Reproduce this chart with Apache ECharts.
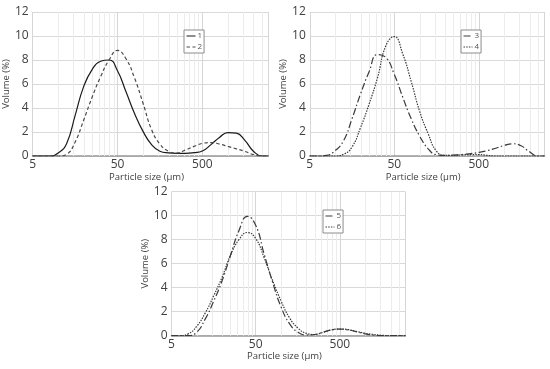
<!DOCTYPE html>
<html><head><meta charset="utf-8">
<script src="https://cdn.jsdelivr.net/npm/echarts@6/dist/echarts.min.js"></script>
<style>html,body{margin:0;padding:0;background:#fff}#c{width:550px;height:369px}</style>
</head><body><div id="c"></div>
<script>
// particle size classes (µm)
const sizes = [5, 6.3, 7.9, 10, 12.6, 15.8, 20, 25.1, 31.6, 39.8, 50, 63, 79.4, 100, 126, 158, 200, 251, 316, 398, 500, 631, 794, 1000, 1259, 1585, 1995, 2512, 3000];
// volume (%) per sample
const vol1 = [0, 0, 0, 0.25, 1.05, 3.35, 5.8, 7.2, 7.9, 8.0, 7.1, 5.35, 3.55, 2.05, 0.95, 0.4, 0.26, 0.22, 0.22, 0.28, 0.42, 0.95, 1.55, 1.95, 1.9, 1.3, 0.4, 0, 0];
const vol2 = [0, 0, 0, 0, 0.15, 1.15, 3.0, 4.9, 6.6, 8.0, 8.8, 8.1, 6.5, 4.4, 2.2, 1.0, 0.4, 0.25, 0.5, 0.8, 1.05, 1.12, 1.0, 0.8, 0.6, 0.38, 0.12, 0, 0];
const vol3 = [0, 0, 0.05, 0.45, 1.3, 3.1, 5.2, 7.0, 8.45, 8.2, 6.8, 4.9, 3.1, 1.65, 0.6, 0.1, 0.05, 0.08, 0.12, 0.2, 0.3, 0.45, 0.65, 0.88, 1.02, 0.85, 0.35, 0, 0];
const vol4 = [0, 0, 0, 0, 0.15, 0.75, 2.4, 4.3, 6.5, 9.2, 9.95, 8.5, 6.2, 3.7, 1.85, 0.4, 0.05, 0.05, 0.1, 0.12, 0.12, 0.05, 0, 0, 0, 0, 0, 0, 0];
const vol5 = [0, 0, 0, 0.3, 1.4, 2.85, 4.6, 6.7, 8.75, 9.95, 9.2, 6.8, 4.45, 2.4, 1.0, 0.3, 0.05, 0.1, 0.3, 0.48, 0.55, 0.48, 0.32, 0.15, 0.05, 0, 0, 0, 0];
const vol6 = [0, 0, 0.15, 0.8, 1.9, 3.3, 4.9, 6.7, 8.0, 8.6, 8.1, 6.5, 4.6, 2.9, 1.5, 0.65, 0.2, 0.1, 0.28, 0.48, 0.56, 0.5, 0.35, 0.2, 0.1, 0.03, 0, 0, 0];
const seriesNames = ['1', '2', '3', '4', '5', '6'];
// axis range and gridlines (µm)
const xMin = 5, xMax = 3000;
const minorGrid = [10, 15, 20, 25, 30, 35, 40, 45, 100, 150, 200, 250, 300, 350, 400, 450, 1000, 1500, 2000, 2500];
const yTicks = [0, 2, 4, 6, 8, 10, 12];

const xp = v => Math.log10(v / xMin);
const FONT = 'Open Sans';
const TXT = '#404040';
const vols = [vol1, vol2, vol3, vol4, vol5, vol6];
const styles = [
  {color: '#1a1a1a', type: 'solid'},
  {color: '#4a4a4a', type: [3.5, 2.5]},
  {color: '#3a3a3a', type: [7, 2.5, 1.5, 2.5]},
  {color: '#3a3a3a', type: [1.5, 1.2]},
  {color: '#3a3a3a', type: [7, 2.5, 1.5, 2.5]},
  {color: '#3a3a3a', type: [1.5, 1.2]}
];
const grids = [
  {left: 32.3, top: 12, width: 236.1, height: 144},
  {left: 309.8, top: 12, width: 234.7, height: 144},
  {left: 171.5, top: 191.7, width: 233.9, height: 144}
];
const legends = [
  {left: 184, top: 30}, {left: 461, top: 30}, {left: 323, top: 210}
];
const xAxes = grids.map((g, i) => ({
  type: 'value', gridIndex: i, min: 0, max: xp(xMax), interval: 1,
  name: 'Particle size (µm)', nameLocation: 'middle', nameGap: 15,
  nameTextStyle: {fontFamily: FONT, fontSize: 9.5, color: TXT, padding: [0, 8, 0, 0]},
  axisLine: {show: true, lineStyle: {color: '#999', width: 1.5}},
  axisTick: {show: false},
  axisLabel: {fontFamily: FONT, fontSize: 12, color: TXT, margin: 3, showMaxLabel: false,
    formatter: v => String(Math.round(xMin * Math.pow(10, v)))},
  splitLine: {show: true, lineStyle: {color: '#d6d6d6', width: 1}}
}));
const yAxes = grids.map((g, i) => ({
  type: 'value', gridIndex: i, min: yTicks[0], max: yTicks[yTicks.length - 1], interval: 2,
  name: 'Volume (%)', nameLocation: 'middle', nameGap: 19,
  nameTextStyle: {fontFamily: FONT, fontSize: 9.5, color: TXT},
  axisLine: {show: false}, axisTick: {show: false},
  axisLabel: {fontFamily: FONT, fontSize: 12, color: TXT, margin: 4},
  splitLine: {show: true, lineStyle: {color: '#d9d9d9', width: 1}}
}));
const series = [];
grids.forEach((g, i) => {
  series.push({
    type: 'custom', xAxisIndex: i, yAxisIndex: i, silent: true, z: 1,
    data: minorGrid.map(v => [xp(v), 0]),
    renderItem: (params, api) => {
      const a = api.coord([api.value(0), yTicks[0]]);
      const b = api.coord([api.value(0), yTicks[yTicks.length - 1]]);
      const x = Math.round(a[0]) + 0.5;
      return {type: 'line', shape: {x1: x, y1: a[1], x2: x, y2: b[1]}, style: {stroke: '#ececec', lineWidth: 1}};
    }
  });
});
vols.forEach((vol, k) => {
  const gi = Math.floor(k / 2);
  series.push({
    name: seriesNames[k], type: 'line', xAxisIndex: gi, yAxisIndex: gi,
    data: sizes.map((s, j) => [xp(s), vol[j]]),
    smooth: 0.5, symbol: 'none', z: 3,
    lineStyle: {color: styles[k].color, type: styles[k].type, width: 1.2},
    itemStyle: {color: styles[k].color}
  });
});
const legendOpts = legends.map((l, i) => ({
  data: [seriesNames[2 * i], seriesNames[2 * i + 1]],
  left: l.left, top: l.top, orient: 'vertical',
  itemWidth: 9, itemHeight: 10, itemGap: 3, padding: [2, 2, 2, 2],
  borderColor: '#8c8c8c', borderWidth: 1, backgroundColor: '#fff',
  selectedMode: false,
  textStyle: {fontFamily: FONT, fontSize: 8, color: '#555', padding: [0, 0, 0, -3]},
  lineStyle: {width: 1},
  itemStyle: {opacity: 0}
}));
const chart = echarts.init(document.getElementById('c'), null, {renderer: 'canvas'});
chart.setOption({
  animation: false,
  backgroundColor: '#fff',
  grid: grids,
  xAxis: xAxes,
  yAxis: yAxes,
  legend: legendOpts,
  series: series
});
</script>
</body></html>
